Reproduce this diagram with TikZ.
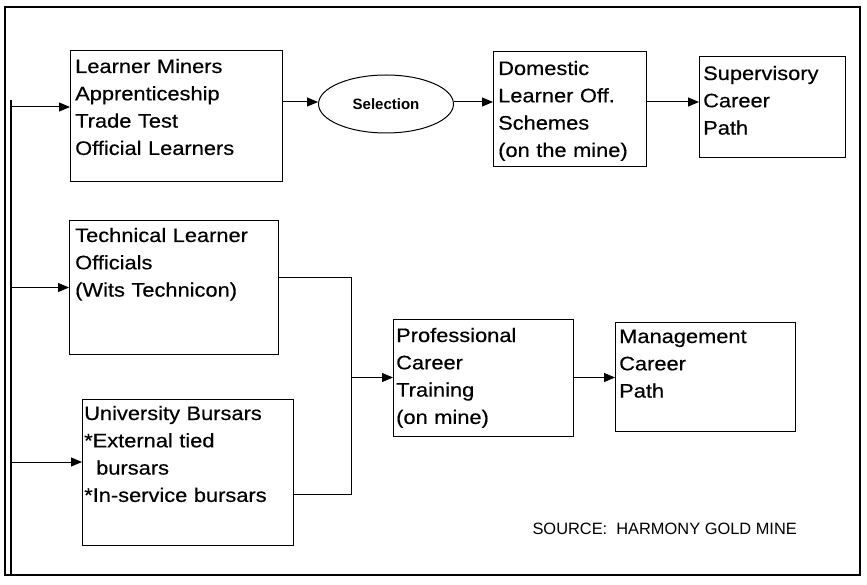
\documentclass[tikz,border=0pt]{standalone}
\usepackage{fontspec}
\setmainfont{Liberation Sans}[FakeStretch=1.12,FakeBold=0.4]
\newfontfamily\plainsans{Liberation Sans}
\usetikzlibrary{arrows.meta,shapes.geometric}
\begin{document}
\begin{tikzpicture}[x=1pt,y=-1pt,
  box/.style={draw,line width=1pt,inner sep=0pt,outer sep=0pt,anchor=north west},
  txt/.style={inner sep=0pt,align=left,anchor=base west,text width=200pt,font=\fontsize{19.5}{27.3}\selectfont},
  conn/.style={line width=1pt},
  arr/.style={line width=1pt,-{Triangle[length=11pt,width=9pt]}}]
\useasboundingbox (0,0) rectangle (867,585);
% frame
\draw[line width=1.8pt] (5,7) rectangle (860,575);
% bus
\coordinate (busTop) at (11,100);
\coordinate (busBot) at (11,575);
\draw[line width=1.2pt] (busTop) -- (busBot);
% boxes
\node[box,minimum width=212pt,minimum height=131pt] (b1) at (70,51) {};
\node[txt] (t1) at (75,73) {Learner Miners\\Apprenticeship\\Trade Test\\Official Learners};
\node[draw,ellipse,line width=1pt,minimum width=135pt,minimum height=58pt,inner sep=0pt,font=\plainsans\bfseries\fontsize{15}{18}\selectfont] (sel) at (386,104) {Selection};
\node[box,minimum width=153pt,minimum height=115pt] (dom) at (493,52) {};
\node[txt] (tdom) at (498,75) {Domestic\\Learner Off.\\Schemes\\(on the mine)};
\node[box,minimum width=146pt,minimum height=101pt] (sup) at (699,57) {};
\node[txt] (tsup) at (703,80) {Supervisory\\Career\\Path};
\node[box,minimum width=209pt,minimum height=133pt] (tech) at (69,221) {};
\node[txt] (ttech) at (75,242) {Technical Learner\\Officials\\(Wits Technicon)};
\node[box,minimum width=211pt,minimum height=146pt] (uni) at (82,399) {};
\node[txt] (tuni) at (84,420) {University Bursars\\{}*External tied\\\hspace*{12pt}bursars\\{}*In-service bursars};
\node[box,minimum width=180pt,minimum height=117pt] (prof) at (393,319) {};
\node[txt] (tprof) at (396,342) {Professional\\Career\\Training\\(on mine)};
\node[box,minimum width=180pt,minimum height=109pt] (mgt) at (615,322) {};
\node[txt] (tmgt) at (619,343) {Management\\Career\\Path};
\node[inner sep=0pt,anchor=base east,font=\plainsans\fontsize{16.4}{18}\selectfont] (src) at (797,534) {SOURCE:\ \ HARMONY GOLD MINE};
% arrows from bus
\coordinate (s1) at (11,107);
\coordinate (s2) at (11,287.5);
\coordinate (s3) at (11,462);
\draw[arr] (s1) -- (s1 -| b1.west);
\draw[arr] (s2) -- (s2 -| tech.west);
\draw[arr] (s3) -- (s3 -| uni.west);
% top row
\coordinate (r1) at (0,102);
\draw[arr] (r1 -| b1.east) -- (r1 -| sel.west);
\draw[arr] (r1 -| sel.east) -- (r1 -| dom.west);
\draw[arr] (r1 -| dom.east) -- (r1 -| sup.west);
% merge
\coordinate (jt) at (351,278);
\coordinate (jb) at (351,494);
\draw[conn] (jt -| tech.east) -- (jt) -- (jb) -- (jb -| uni.east);
\draw[arr] (jt |- prof.west) -- (prof.west);
\draw[arr] (prof.east) -- (prof.east -| mgt.west);
\end{tikzpicture}
\end{document}
